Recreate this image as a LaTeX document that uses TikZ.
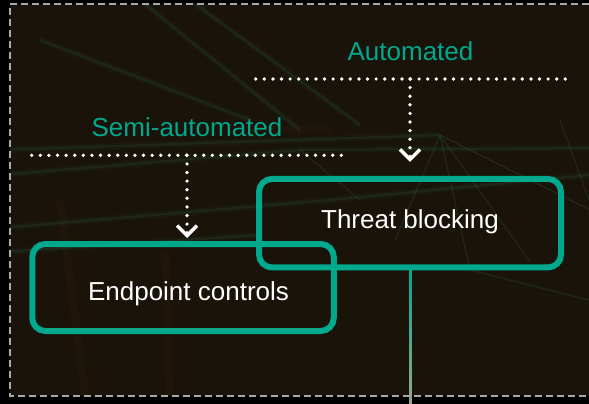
\documentclass[tikz,border=0pt]{standalone}
\usepackage{fontspec}
\setmainfont{Liberation Sans}
\usetikzlibrary{arrows.meta,calc}
\definecolor{accent}{HTML}{00A88E}
\definecolor{bgdark}{HTML}{1A1309}
\definecolor{frame}{HTML}{A9A9A9}
\definecolor{stemend}{HTML}{9AA48E}
\definecolor{glow}{HTML}{2F8F6A}
\definecolor{ember}{HTML}{5A2A12}
\begin{document}
\begin{tikzpicture}[x=1pt,y=-1pt,
  box/.style={draw=accent, line width=6pt, rounded corners=13pt, inner sep=0pt, outer sep=0pt},
  boxtext/.style={text=white, font=\fontsize{26}{30}\selectfont, anchor=base, inner sep=0pt},
  tier/.style={text=accent, font=\fontsize{26}{30}\selectfont, anchor=base, inner sep=0pt},
  dots/.style={draw=white, line width=3.7pt, line cap=round, dash pattern=on 0pt off 8.6pt},
  drop/.style={dots, -{Straight Barb[length=10pt,width=20pt,line width=3.5pt]}},
  strand/.style={draw=glow, line width=4pt, opacity=0.1},
  fine/.style={draw=glow, line width=1.2pt, opacity=0.18},
  streak/.style={draw=ember, line width=8pt, opacity=0.1},
]
\useasboundingbox (0,0) rectangle (589,404);

% backdrop
\fill[black] (0,0) rectangle (589,404);
\fill[bgdark] (10,3.7) rectangle (589,396);

% faint network strands behind the diagram
\begin{scope}
  \clip (10,3.7) rectangle (589,396);
  \foreach \w/\o in {6pt/0.06, 2pt/0.12} {
    \draw[draw=glow, line width=\w, opacity=\o] (0,150) -- (440,135);
    \draw[draw=glow, line width=\w, opacity=\o] (0,175) -- (300,150) -- (589,148);
    \draw[draw=glow, line width=\w, opacity=\o] (0,228) -- (330,200) -- (589,175);
    \draw[draw=glow, line width=\w, opacity=\o] (0,252) -- (260,235);
    \draw[draw=glow, line width=\w, opacity=\o] (140,0) -- (300,130);
    \draw[draw=glow, line width=\w, opacity=\o] (190,0) -- (360,125);
    \draw[draw=glow, line width=\w, opacity=\o] (40,40) -- (250,120);
  }
  \draw[fine] (440,135) -- (470,270);
  \draw[fine] (440,135) -- (530,262);
  \draw[fine] (440,135) -- (600,215);
  \draw[fine] (440,135) -- (395,240);
  \draw[fine] (470,270) -- (589,300);
  \draw[fine] (560,120) -- (589,200);
  \draw[fine] (300,150) -- (360,200);
  \draw[streak] (60,200) -- (85,396);
  \draw[streak] (165,250) -- (170,396);
  \draw[streak] (240,130) -- (330,130);
\end{scope}

% dashed frame
\draw[frame, line width=2.2pt, dash pattern=on 7pt off 4pt]
  (600,3.7) -- (10,3.7) -- (10,396) -- (600,396);

% tier labels and their dotted rails
\node[tier] (autolbl) at (410.5,61) {Automated};
\coordinate (aL) at (255.7,79);
\coordinate (aR) at (565.7,79);
\coordinate (aJ) at (410,79);
\draw[dots] (aL) -- (aR);

\node[tier] (semilbl) at (187,136.7) {Semi-automated};
\coordinate (sL) at (31.7,155.3);
\coordinate (sR) at (341.7,155.3);
\coordinate (sJ) at (187,155.3);
\draw[dots] (sL) -- (sR);

% control boxes
\node[box, minimum width=302pt, minimum height=88.5pt] (tb) at (410,223.2) {};
\node[boxtext] (tbtext) at (410,228) {Threat blocking};

\node[box, minimum width=301.5pt, minimum height=87pt] (ep) at (183,287.5) {};
\node[boxtext] (eptext) at (188.5,300) {Endpoint controls};

% drops from rails into the boxes
\draw[drop, shorten >=17pt] (aJ) -- (aJ |- tb.north);
\draw[drop, shorten >=6pt] (sJ) -- (sJ |- ep.north);

% stem below the threat box, fading downward
\coordinate (stemtop) at (410.5,270);
\coordinate (stemfoot) at (410.5,404);
\shade[top color=accent, bottom color=stemend]
  ($(stemtop)+(-1.3,0)$) rectangle ($(stemfoot)+(1.3,0)$);
\end{tikzpicture}
\end{document}
